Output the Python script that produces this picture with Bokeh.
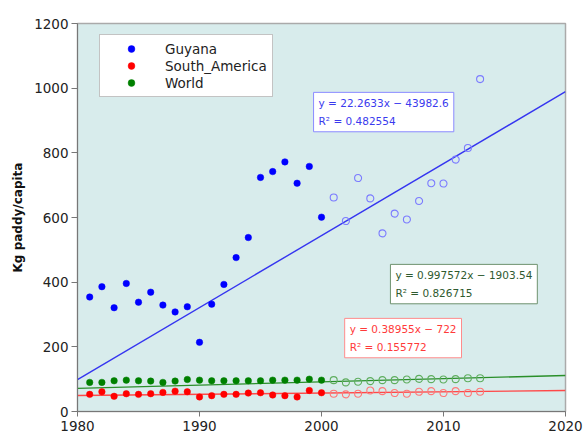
import numpy as np
from bokeh.plotting import figure
from bokeh.models import Legend, LegendItem, Label, FixedTicker, Range1d
from bokeh.embed import file_html
from bokeh.resources import INLINE

# ---- data ----
years = list(range(1981, 2014))
last_filled_year = 2000
guyana = [354, 386, 321, 396, 338, 369, 329, 308, 324, 214, 332, 393, 476, 538, 724, 742,
          772, 706, 758, 601, 662, 589, 722, 659, 551, 612, 594, 651, 706, 705, 779, 815, 1028]
south_america = [53, 61, 47, 55, 53, 55, 59, 63, 61, 45, 49, 53, 53, 57, 58, 51, 49, 45, 65,
                 58, 55, 53, 55, 65, 63, 57, 55, 61, 63, 57, 63, 57, 61]
world = [90, 90, 95, 97, 95, 94, 90, 94, 99, 97, 95, 95, 95, 95, 95, 97, 97, 97, 100, 97,
         97, 90, 92, 94, 97, 97, 99, 101, 100, 99, 100, 103, 103]
series_names = ["Guyana", "South_America", "World"]
slopes = [22.2633, 0.38955, 0.997572]
intercepts = [-43982.6, -722, -1903.54]
eq_texts = ["y = 22.2633x \u2212 43982.6\nR\u00b2 = 0.482554",
            "y = 0.38955x \u2212 722\nR\u00b2 = 0.155772",
            "y = 0.997572x \u2212 1903.54\nR\u00b2 = 0.826715"]
x_ticks = [1980, 1990, 2000, 2010, 2020]
y_ticks = [0, 200, 400, 600, 800, 1000, 1200]
x_range = (1980, 2020)
y_range = (0, 1200)

FONT = "DejaVu Sans"
fill_colors = ["#0000ff", "#ff0000", "#008000"]
hollow_colors = ["#7b7bff", "#ff7878", "#5fae5f"]
line_colors = ["#3535f0", "#ff4848", "#2a8f2a"]
box_text_colors = ["#3a3aee", "#ff3a3a", "#2f5a2f"]
box_border_colors = ["#8a8aff", "#ff8c8c", "#6f926f"]
label_pos = [(1999.35, 987), (2001.9, 288), (2005.65, 455)]

p = figure(width=584, height=435, output_backend="svg", toolbar_location=None,
           x_range=Range1d(*x_range), y_range=Range1d(*y_range),
           min_border_left=77, min_border_right=19, min_border_top=23, min_border_bottom=24)
p.background_fill_color = "#d8ecec"
p.border_fill_color = "white"
p.outline_line_color = "#aaaaaa"
p.outline_line_width = 1.5
p.xgrid.grid_line_color = None
p.ygrid.grid_line_color = None

for ax in (p.xaxis, p.yaxis):
    ax.axis_line_color = "#777777"
    ax.major_tick_line_color = "#777777"
    ax.minor_tick_line_color = None
    ax.major_tick_in = 0
    ax.major_label_text_font = FONT
    ax.major_label_text_font_size = "13.5px"
    ax.major_label_text_color = "#222222"
p.xaxis.ticker = FixedTicker(ticks=x_ticks)
p.yaxis.ticker = FixedTicker(ticks=y_ticks)
p.xaxis.major_tick_out = 5
p.xaxis.major_label_standoff = 4
p.yaxis.major_tick_out = 6
p.yaxis.major_label_standoff = 3
p.yaxis.axis_label = "Kg paddy/capita"
p.yaxis.axis_label_text_font = FONT
p.yaxis.axis_label_text_font_size = "12px"
p.yaxis.axis_label_text_font_style = "bold"
p.yaxis.axis_label_text_color = "#111111"
p.yaxis.axis_label_standoff = 6

yrs = np.array(years)
filled_mask = yrs <= last_filled_year
xs_line = np.array(x_range, dtype=float)
legend_items = []
all_vals = [guyana, south_america, world]
for i in range(3):
    p.line(xs_line, slopes[i] * xs_line + intercepts[i], line_color=line_colors[i], line_width=1.4)
for i, (name, vals) in enumerate(zip(series_names, all_vals)):
    v = np.array(vals, dtype=float)
    p.scatter(yrs[~filled_mask], v[~filled_mask], size=7, marker="circle",
              fill_color=None, line_color=hollow_colors[i], line_width=1.1)
    r = p.scatter(yrs[filled_mask], v[filled_mask], size=6.5, marker="circle",
                  fill_color=fill_colors[i], line_color=fill_colors[i], line_width=0.5)
    legend_items.append(LegendItem(label=name, renderers=[r]))

legend = Legend(items=legend_items, location=(22, 314), margin=0, padding=5,
                glyph_width=52, glyph_height=17, label_height=17, label_standoff=8, spacing=0,
                label_text_font=FONT, label_text_font_size="13.5px", label_text_color="#222222",
                border_line_color="#888888", border_line_width=1, background_fill_color="white",
                background_fill_alpha=1)
p.add_layout(legend, "center")

for i in range(3):
    lbl = Label(x=label_pos[i][0], y=label_pos[i][1], text=eq_texts[i], anchor="top_left",
                text_font=FONT, text_font_size="10.5px", text_color=box_text_colors[i],
                text_line_height=1.45, padding=5,
                background_fill_color="white", border_line_color=box_border_colors[i],
                border_line_width=1)
    p.add_layout(lbl)

open("out.html", "w").write(file_html(p, INLINE))
